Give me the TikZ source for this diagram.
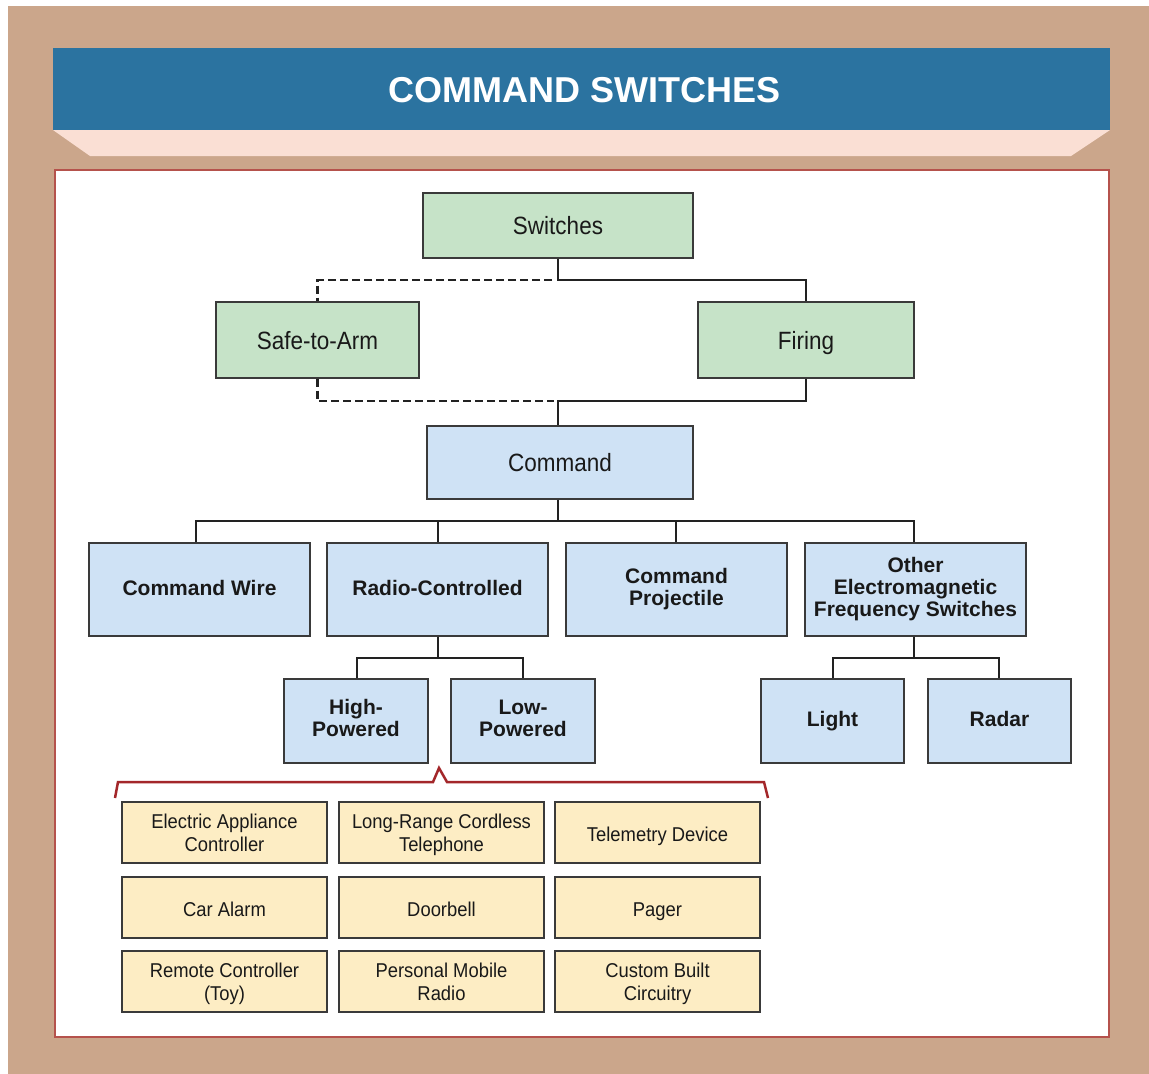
\documentclass[tikz,border=0pt]{standalone}
\usepackage{fontspec}
\setmainfont{Liberation Sans}
\newfontfamily\condfont[FakeStretch=0.9]{Liberation Sans}
\newfontfamily\ycondfont[FakeStretch=0.92]{Liberation Sans}
\definecolor{tan}{HTML}{CBA68B}
\definecolor{hdrblue}{HTML}{2B73A0}
\definecolor{hdrpink}{HTML}{FADFD4}
\definecolor{panelred}{HTML}{B5524C}
\definecolor{boxgreen}{HTML}{C6E3C8}
\definecolor{boxblue}{HTML}{CFE2F5}
\definecolor{boxyellow}{HTML}{FDEDC4}
\definecolor{boxline}{HTML}{3A3A3A}
\definecolor{conn}{HTML}{222222}
\definecolor{brackred}{HTML}{A3272A}
\newcommand\twoline[2]{\begin{tabular}{@{}c@{}}#1\\#2\end{tabular}}
\begin{document}
\begin{tikzpicture}[x=1pt,y=-1pt,
  basebox/.style={draw=boxline,line width=1.3pt,inner sep=0pt,align=center,text=black!90},
  strutA/.style={execute at begin node={\rule[-0.23em]{0pt}{1.18em}},execute at end node={\rule[-0.23em]{0pt}{1.18em}}},
  strutB/.style={execute at begin node={\rule[-0.25em]{0pt}{1.05em}},execute at end node={\rule[-0.25em]{0pt}{1.05em}}},
  strutC/.style={execute at begin node={\rule{0pt}{1.15em}},text depth=4.6pt},
  greenbox/.style={basebox,strutA,fill=boxgreen,font=\condfont\fontsize{25}{28}\selectfont},
  blueplain/.style={basebox,strutA,fill=boxblue,font=\condfont\fontsize{25}{28}\selectfont},
  bluebold/.style={basebox,strutB,fill=boxblue,font=\bfseries\fontsize{21}{22}\selectfont},
  ybox/.style={basebox,strutC,fill=boxyellow,minimum width=205pt,minimum height=61pt,font=\ycondfont\fontsize{20}{23}\selectfont},
  ytext/.style={inner sep=0pt,text=black!90,font=\ycondfont\fontsize{20}{23}\selectfont,yshift=-3pt},
  link/.style={draw=conn,line width=2.8pt},
  dlink/.style={draw=conn,line width=2.8pt,dash pattern=on 8pt off 4pt}]
\useasboundingbox (0,0) rectangle (1149,1074);
% background frame
\fill[tan] (8,6) rectangle (1149,1074);
\fill[hdrblue] (53,48) rectangle (1110,130);
\fill[hdrpink] (53,130) -- (1110,130) -- (1071,156) -- (90,156) -- cycle;
\node[text=white,font=\bfseries\fontsize{36}{40}\selectfont] (title) at (584.5,90) {COMMAND SWITCHES};
\draw[fill=white,draw=panelred,line width=2pt] (55,170) rectangle (1109,1037);
% top level
\node[greenbox,minimum width=270pt,minimum height=65pt] (sw) at (558,225.5) {Switches};
\node[greenbox,minimum width=203pt,minimum height=76pt] (safe) at (317.5,340) {Safe-to-Arm};
\node[greenbox,minimum width=216pt,minimum height=76pt] (fir) at (806,340) {Firing};
\node[blueplain,minimum width=266pt,minimum height=73pt] (cmd) at (560,462.5) {Command};
% second row
\node[bluebold,minimum width=221pt,minimum height=93pt] (cw) at (199.5,589.5) {Command Wire};
\node[bluebold,minimum width=221pt,minimum height=93pt] (rc) at (437.5,589.5) {Radio-Controlled};
\node[bluebold,minimum width=221pt,minimum height=93pt] (cp) at (676.5,589.5) {Command\\Projectile};
\node[bluebold,minimum width=221pt,minimum height=93pt] (oem) at (915.5,589.5) {Other\\Electromagnetic\\Frequency Switches};
% third row
\node[bluebold,minimum width=144pt,minimum height=84pt] (hp) at (356,721) {High-\\Powered};
\node[bluebold,minimum width=144pt,minimum height=84pt] (lp) at (523,721) {Low-\\Powered};
\node[bluebold,minimum width=143pt,minimum height=84pt] (light) at (832.5,721) {Light};
\node[bluebold,minimum width=143pt,minimum height=84pt] (radar) at (999.5,721) {Radar};
% yellow grid
\node[ybox] (y11) at (224.5,832.5) {};
\node[ytext] (y11t) at (y11.center) {\twoline{Electric Appliance}{Controller}};
\node[ybox] (y12) at (441.5,832.5) {};
\node[ytext] (y12t) at (y12.center) {\twoline{Long-Range Cordless}{Telephone}};
\node[ybox] (y13) at (657.5,832.5) {Telemetry Device};
\node[ybox] (y21) at (224.5,907.5) {Car Alarm};
\node[ybox] (y22) at (441.5,907.5) {Doorbell};
\node[ybox] (y23) at (657.5,907.5) {Pager};
\node[ybox] (y31) at (224.5,981.5) {};
\node[ytext] (y31t) at (y31.center) {\twoline{Remote Controller}{(Toy)}};
\node[ybox] (y32) at (441.5,981.5) {};
\node[ytext] (y32t) at (y32.center) {\twoline{Personal Mobile}{Radio}};
\node[ybox] (y33) at (657.5,981.5) {};
\node[ytext] (y33t) at (y33.center) {\twoline{Custom Built}{Circuitry}};
% connectors
\coordinate (j1) at (558,280);
\coordinate (j1d) at (552,280);
\coordinate (j2) at (558,401);
\coordinate (j2d) at (554,401);
\draw[link] (sw.south -| j1) -- (j1) -| (fir.north);
\draw[dlink] (j1d) -| (safe.north);
\draw[dlink] (safe.south) |- (j2d);
\draw[link] (fir.south) |- (j2) -- (cmd.north -| j2);
\coordinate (bus) at (558,521);
\draw[link] (cmd.south -| bus) -- (bus);
\draw[link] (cw.north -| 196,0) |- (bus) -| (oem.north -| 914,0);
\draw[link] (rc.north -| 438,0) -- (438,521);
\draw[link] (cp.north -| 676,0) -- (676,521);
\coordinate (bus2) at (438,658);
\draw[link] (rc.south -| bus2) -- (bus2);
\draw[link] (hp.north -| 357,0) |- (bus2) -| (lp.north -| 523,0);
\coordinate (bus3) at (914,658);
\draw[link] (oem.south -| bus3) -- (bus3);
\draw[link] (light.north -| 833,0) |- (bus3) -| (radar.north -| 999,0);
% bracket
\draw[brackred,line width=2.5pt,line join=miter] (115,798) -- (118,782) -- (433,782) -- (439,768) -- (447,782) -- (764,782) -- (768,798);
\end{tikzpicture}
\end{document}
